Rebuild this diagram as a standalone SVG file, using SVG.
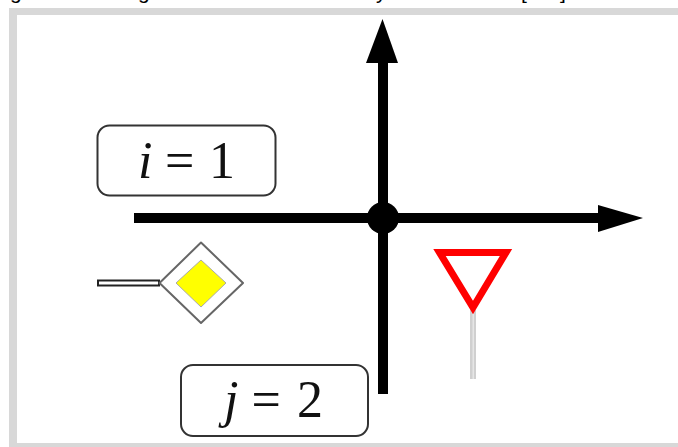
<svg xmlns="http://www.w3.org/2000/svg" width="678" height="447" viewBox="0 0 678 447">
<style>
.label{font-family:"Liberation Serif","Times New Roman",serif;font-size:52px;fill:#111}
.it{font-style:italic}
.cap{font-family:"Liberation Sans",Arial,sans-serif;font-size:21px;fill:#000}
.box{fill:#fff;stroke:#333;stroke-width:2}
.road{fill:none;stroke:#000;stroke-width:10}
.head{fill:#000}
</style>
<rect width="678" height="447" fill="#fff"/>
<text class="cap" x="10" y="-1">g</text>
<text class="cap" x="138" y="-1">g</text>
<text class="cap" x="376" y="-1">y</text>
<text class="cap" x="521" y="-1">[</text>
<text class="cap" x="560" y="-1">]</text>
<path id="frame" d="M678 8H9V447H678V443H17V15H678Z" fill="#d8d8d8"/>
<g id="connectors">
<path class="road" d="M383 60V394"/>
<path class="road" d="M134 218H600"/>
<path class="head" d="M382.500 19L398 63H366Z"/>
<path class="head" d="M643 218L598 205V232Z"/>
</g>
<g id="junction"><circle cx="383" cy="218" r="16" fill="#000"/></g>
<g id="node-i">
<rect class="box" x="97.500" y="125.500" width="178" height="70" rx="12"/>
<text class="label" y="178"><tspan class="it" x="138">i</tspan><tspan x="165">=</tspan><tspan x="209">1</tspan></text>
</g>
<g id="node-j">
<rect class="box" x="181" y="365" width="187" height="71" rx="12"/>
<text class="label" y="417"><tspan class="it" x="224">j</tspan><tspan x="251.500">=</tspan><tspan x="297">2</tspan></text>
</g>
<g id="priority-sign">
<rect x="98" y="280.500" width="61" height="5" fill="#fff" stroke="#222" stroke-width="2"/>
<path d="M201 242.500L243 283L201 323L159.500 283Z" fill="#fff" stroke="#666" stroke-width="2" stroke-linejoin="round"/>
<path d="M201 260L226 283L201 307L176 283Z" fill="#ff0" stroke="#aaa" stroke-width="1"/>
</g>
<g id="yield-sign">
<rect x="470" y="310" width="6" height="69" fill="#d0d0d0"/>
<rect x="472.500" y="310" width="1.500" height="69" fill="#e6e6e6"/>
<path d="M439.500 252.500H506L473 307.500Z" fill="#fff" stroke="#f00" stroke-width="7" stroke-linejoin="miter"/>
</g>
</svg>
